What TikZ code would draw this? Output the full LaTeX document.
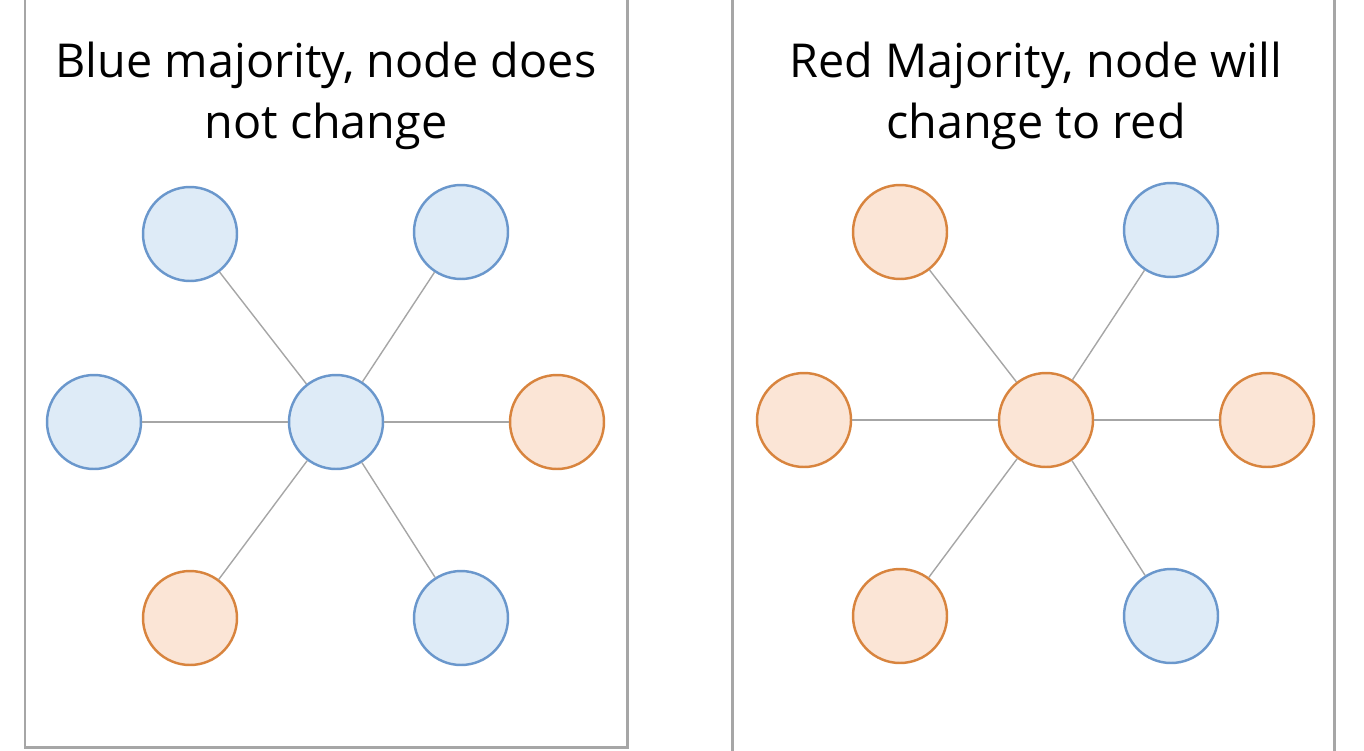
\documentclass[tikz,border=0pt]{standalone}
\usepackage{fontspec}
\setmainfont{Open Sans}
\usetikzlibrary{positioning}
\definecolor{bluefill}{HTML}{DEEBF7}
\definecolor{bluedraw}{HTML}{6A97CC}
\definecolor{redfill}{HTML}{FBE5D6}
\definecolor{reddraw}{HTML}{D8843E}
\definecolor{framegray}{HTML}{A6A6A6}
\tikzset{
  blue node/.style={circle, draw=bluedraw, fill=bluefill, line width=1.4pt, inner sep=0pt, minimum size=1.88cm},
  red node/.style={circle, draw=reddraw, fill=redfill, line width=1.4pt, inner sep=0pt, minimum size=1.88cm},
  link/.style={draw=framegray, line width=0.8pt},
  panel/.style={draw=framegray, line width=1.7pt},
  title/.style={align=center, font=\fontsize{26.6}{34.5}\selectfont}
}
\begin{document}
\begin{tikzpicture}[x=0.02cm,y=-0.02cm]
\useasboundingbox (0,0) rectangle (1364,750);
\clip (0,0) rectangle (1364,750);
\def \shift {710} % right panel offset in px

% panels
\draw[panel] (25,-20) rectangle (627,747);
\draw[panel] (732,-20) rectangle (1334,770);

\node[title] (title1) at (326,96) {Blue majority, node does\\not change};
\node[title] (title2) at (326+\shift,96) {Red Majority, node will\\change to red};

% left: blue majority
\node[blue node] (c1) at (336,422) {};
\node[blue node] (tl1) at (190,234) {};
\node[blue node] (tr1) at (461,232) {};
\node[blue node] (l1) at (94,422) {};
\node[red node] (r1) at (557,422) {};
\node[red node] (bl1) at (190,618) {};
\node[blue node] (br1) at (461,618) {};

% right: red majority
\node[red node] (c2) at (336+\shift,420) {};
\node[red node] (tl2) at (190+\shift,232) {};
\node[blue node] (tr2) at (461+\shift,230) {};
\node[red node] (l2) at (94+\shift,420) {};
\node[red node] (r2) at (557+\shift,420) {};
\node[red node] (bl2) at (190+\shift,616) {};
\node[blue node] (br2) at (461+\shift,616) {};

\foreach \p in {1,2}
{
\foreach \n in {tl,tr,l,r,bl,br}
  \draw[link] (c\p) -- (\n\p);
}
\end{tikzpicture}
\end{document}
